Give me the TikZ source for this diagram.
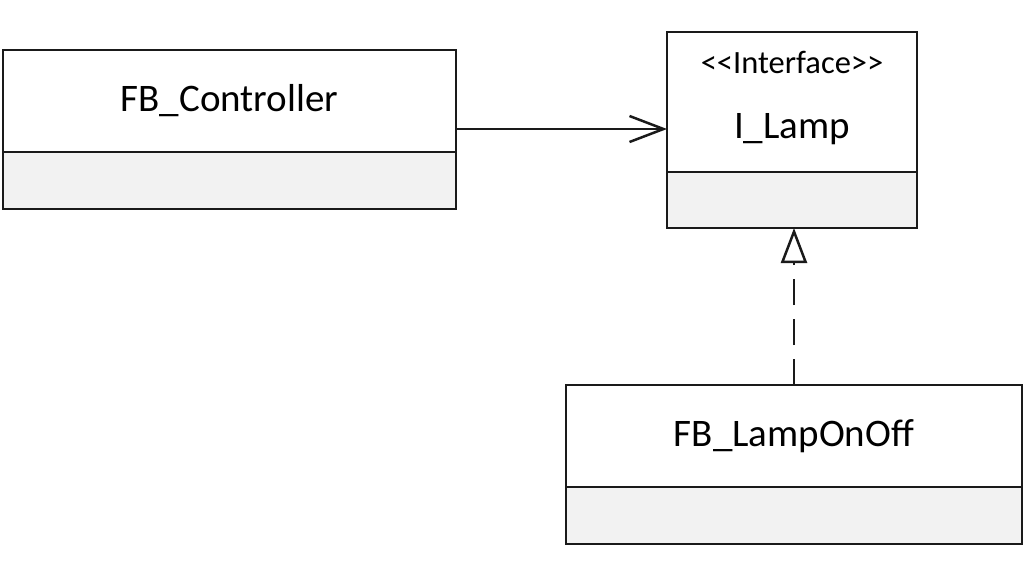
\documentclass[tikz,border=0pt]{standalone}
\usepackage{fontspec}
\setmainfont{Carlito}
\usetikzlibrary{arrows.meta,positioning}
\definecolor{compart}{HTML}{F2F2F2}
\definecolor{umlline}{HTML}{1A1A1A}

\begin{document}
\begin{tikzpicture}[x=1pt,y=-1pt,
  classhead/.style={draw=umlline,line width=2.5pt,fill=white,inner sep=0pt,outer sep=0pt,font=\fontsize{39}{47}\selectfont},
  classbody/.style={draw=umlline,line width=2.5pt,fill=compart,inner sep=0pt,outer sep=0pt}]
  \useasboundingbox (0,0) rectangle (1024,576);
  % classes
  \node[classhead,minimum width=453pt,minimum height=102pt] (ctrl) at (229.5,101) {FB\_Controller};
  \node[classbody,minimum width=453pt,minimum height=57pt,below=0pt of ctrl] (ctrlattr) {};
  \node[classhead,minimum width=250pt,minimum height=140pt] (lamp) at (792,102) {};
  \node[classbody,minimum width=250pt,minimum height=56pt,below=0pt of lamp] (lampattr) {};
  \node[font=\fontsize{32.5}{38}\selectfont,anchor=base] (lampstereo) at ([yshift=-41pt]lamp.north) {{<}{<}Interface{>}{>}};
  \node[font=\fontsize{39}{47}\selectfont,anchor=base] (lampname) at ([yshift=-106pt]lamp.north) {I\_Lamp};
  \node[classhead,minimum width=456pt,minimum height=102pt] (onoff) at (794,436) {FB\_LampOnOff};
  \node[classbody,minimum width=456pt,minimum height=57pt,below=0pt of onoff] (onoffattr) {};
  % relations
  \draw[umlline,line width=2.5pt,-{Straight Barb[length=34pt,width=26pt,line width=2.5pt]}] ([yshift=-28pt]ctrl.east) -- ([yshift=-27pt]lamp.west);
  \draw[umlline,line width=2.5pt,dash pattern=on 26pt off 14pt,-{Triangle[open,length=35pt,width=26pt,line width=2.5pt,fill=white]}] (onoff.north) -- (onoff.north |- lampattr.south);
\end{tikzpicture}
\end{document}
